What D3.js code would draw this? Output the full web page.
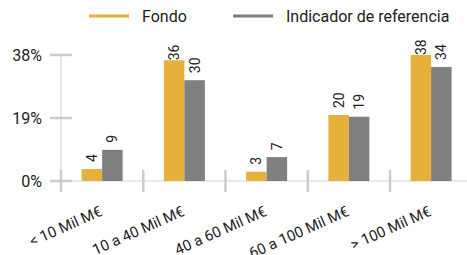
<!DOCTYPE html>
<html><head><meta charset="utf-8">
<script src="https://cdn.jsdelivr.net/npm/d3@7"></script>
<style>body{margin:0;background:#fff;font-family:Roboto,sans-serif;}</style>
</head><body>
<svg id="c" width="467" height="255"></svg>
<script>
const categories = ["< 10 Mil M€", "10 a 40 Mil M€", "40 a 60 Mil M€", "60 a 100 Mil M€", "> 100 Mil M€"];
const seriesNames = ["Fondo", "Indicador de referencia"];
const fondo = [3.6, 36.4, 2.8, 19.9, 38.0];
const referencia = [9.4, 30.4, 7.2, 19.4, 34.4];
const yTicks = [0, 19, 38];
const colors = ["#E5B13B", "#808080"];

const svg = d3.select("#c");
const W = 467, H = 255;
const x = d3.scaleBand().domain(categories).range([61, 61 + 82.25 * 5]).paddingInner(0).paddingOuter(0);
const x1 = d3.scaleBand().domain(seriesNames).range([0, 41]);
const y = d3.scaleLinear().domain([0, 38]).range([181, 55]);

// axis lines
svg.append("line").attr("x1", 61).attr("x2", 61).attr("y1", 55).attr("y2", 181)
  .attr("stroke", "#e8e8f0").attr("stroke-width", 2);
svg.append("line").attr("x1", 61).attr("x2", W).attr("y1", 181).attr("y2", 181)
  .attr("stroke", "#e8e8f0").attr("stroke-width", 2);

// y axis ticks
const yAxis = d3.axisLeft(y).tickValues(yTicks).tickFormat(d => d + "%").tickSize(0).tickPadding(0);
const gy = svg.append("g").attr("transform", "translate(42,0)").call(yAxis);
gy.select(".domain").remove();
gy.selectAll("text").attr("font-size", 16).attr("fill", "#222").attr("font-family", "Roboto").attr("dy", "0.35em").attr("x", 0);
svg.selectAll(".ytk").data(yTicks).join("line").attr("class", "ytk")
  .attr("x1", 50).attr("x2", 72).attr("y1", d => y(d)).attr("y2", d => y(d))
  .attr("stroke", "#cccccc").attr("stroke-width", 2.5);

// x ticks at band boundaries
const bounds = categories.map(c => x(c));
svg.selectAll(".xtk").data(bounds).join("line").attr("class", "xtk")
  .attr("x1", d => d).attr("x2", d => d).attr("y1", 170).attr("y2", 192)
  .attr("stroke", "#cccccc").attr("stroke-width", 2.5);

// bars
const groups = svg.append("g").selectAll("g").data(categories).join("g")
  .attr("transform", c => `translate(${x(c) + (x.bandwidth() - 41) / 2},0)`);
const rows = (c, i) => [
  {s: seriesNames[0], v: fondo[i], col: colors[0]},
  {s: seriesNames[1], v: referencia[i], col: colors[1]}
];
groups.each(function(c, i) {
  const g = d3.select(this);
  const d = rows(c, i);
  g.selectAll("rect").data(d).join("rect")
    .attr("x", r => x1(r.s)).attr("width", x1.bandwidth())
    .attr("y", r => y(r.v)).attr("height", r => 181 - y(r.v)).attr("fill", r => r.col);
  g.selectAll("text").data(d).join("text")
    .attr("transform", r => {
      const top = y(r.v);
      let b = top - 7;
      if (b - 16 < 42) b = top;
      return `translate(${x1(r.s) + x1.bandwidth() / 2 + 5},${b}) rotate(-90)`;
    })
    .attr("font-size", 14).attr("fill", "#222").attr("font-family", "Roboto")
    .text(r => Math.round(r.v));
});

// x labels
svg.selectAll(".xl").data(categories).join("text").attr("class", "xl")
  .attr("transform", c => `translate(${x(c) + x.bandwidth() / 2 + 1},215) rotate(-24)`)
  .attr("text-anchor", "end").attr("font-size", 15).attr("fill", "#222").attr("font-family", "Roboto")
  .text(c => c);

// legend
const leg = [{n: seriesNames[0], x: 89, c: colors[0]}, {n: seriesNames[1], x: 233, c: colors[1]}];
const lg = svg.selectAll(".lg").data(leg).join("g").attr("class", "lg");
lg.append("line").attr("x1", d => d.x).attr("x2", d => d.x + 40).attr("y1", 16).attr("y2", 16)
  .attr("stroke", d => d.c).attr("stroke-width", 3);
lg.append("text").attr("x", d => d.x + 53).attr("y", 22).attr("font-size", 16).attr("fill", "#222")
  .attr("font-family", "Roboto").text(d => d.n);
</script>
</body></html>
